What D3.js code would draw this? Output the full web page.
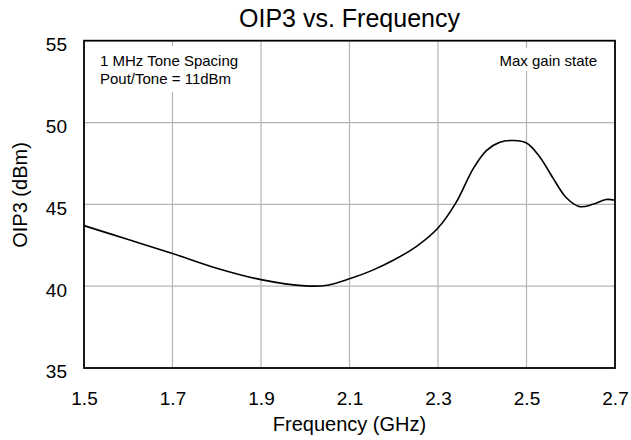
<!DOCTYPE html>
<html>
<head>
<meta charset="utf-8">
<script src="https://cdn.jsdelivr.net/npm/d3@7"></script>
<style>
  html, body { margin: 0; padding: 0; background: #fff; }
  text { font-family: Arial, "Liberation Sans", sans-serif; fill: #000; }
</style>
</head>
<body>
<svg id="chart" width="631" height="440"></svg>
<script>
const freq = [1.5, 1.6, 1.7, 1.8, 1.9, 2.0, 2.05, 2.1, 2.15, 2.2, 2.25, 2.3, 2.34, 2.38, 2.41, 2.44, 2.47, 2.5, 2.53, 2.56, 2.59, 2.62, 2.65, 2.68, 2.7];
const oip3 = [43.7, 42.85, 42.0, 41.1, 40.4, 40.02, 40.06, 40.45, 40.95, 41.6, 42.4, 43.55, 45.07, 47.2, 48.3, 48.8, 48.9, 48.75, 47.9, 46.6, 45.4, 44.86, 45.0, 45.3, 45.25];
const xTicks = [1.5, 1.7, 1.9, 2.1, 2.3, 2.5, 2.7];
const yTicks = [35, 40, 45, 50, 55];
const titleText = "OIP3 vs. Frequency";
const xLabel = "Frequency (GHz)";
const yLabel = "OIP3 (dBm)";
const noteLeft = ["1 MHz Tone Spacing", "Pout/Tone = 11dBm"];
const noteRight = "Max gain state";

const svg = d3.select("#chart");
const W = 631, H = 440;
const m = {left: 84, right: 16, top: 40.7, bottom: 72};
const x = d3.scaleLinear().domain([1.5, 2.7]).range([m.left, W - m.right]);
const y = d3.scaleLinear().domain([35, 55]).range([H - m.bottom, m.top]);

// grid
const g = svg.append("g");
g.selectAll("line.vx").data(xTicks.slice(1, -1)).enter().append("line")
  .attr("x1", d => x(d)).attr("x2", d => x(d))
  .attr("y1", y(55)).attr("y2", y(35))
  .attr("stroke", "#b4b4b4").attr("stroke-width", 1.2);
g.selectAll("line.hy").data(yTicks.slice(1, -1)).enter().append("line")
  .attr("x1", x(1.5)).attr("x2", x(2.7))
  .attr("y1", d => y(d)).attr("y2", d => y(d))
  .attr("stroke", "#b4b4b4").attr("stroke-width", 1.2);

// annotation boxes (white backgrounds hiding grid)
svg.append("rect").attr("x", 95).attr("y", 46).attr("width", 155).attr("height", 46).attr("fill", "#fff");
svg.append("rect").attr("x", 492).attr("y", 48).attr("width", 108).attr("height", 23).attr("fill", "#fff");

svg.append("text").attr("x", 100).attr("y", 65.5).attr("font-size", 15).text(noteLeft[0]);
svg.append("text").attr("x", 100).attr("y", 84).attr("font-size", 15).text(noteLeft[1]);
svg.append("text").attr("x", 597).attr("y", 65.5).attr("font-size", 15).attr("text-anchor", "end").text(noteRight);

// curve
const data = freq.map((f, i) => [f, oip3[i]]);
svg.append("path").datum(data)
  .attr("fill", "none").attr("stroke", "#000").attr("stroke-width", 1.6)
  .attr("d", d3.line().x(d => x(d[0])).y(d => y(d[1])).curve(d3.curveCatmullRom.alpha(0.5)));

// frame
svg.append("rect").attr("x", x(1.5)).attr("y", y(55))
  .attr("width", x(2.7) - x(1.5)).attr("height", y(35) - y(55))
  .attr("fill", "none").attr("stroke", "#000").attr("stroke-width", 1.8);

// axes (labels only)
const xa = svg.append("g").attr("transform", `translate(0,${y(35)})`)
  .call(d3.axisBottom(x).tickValues(xTicks).tickSize(0).tickPadding(0).tickFormat(d3.format(".1f")));
xa.select(".domain").remove();
xa.selectAll("text").attr("font-size", 19).attr("dy", null).attr("y", 37)
  .style("font-family", "Arial, 'Liberation Sans', sans-serif");

const ya = svg.append("g").attr("transform", `translate(${x(1.5)},0)`)
  .call(d3.axisLeft(y).tickValues(yTicks).tickSize(0).tickPadding(0).tickFormat(d3.format("d")));
ya.select(".domain").remove();
ya.selectAll("text").attr("font-size", 19).attr("x", -17).attr("dy", "0.52em")
  .style("font-family", "Arial, 'Liberation Sans', sans-serif");

// titles
svg.append("text").attr("x", (x(1.5) + x(2.7)) / 2).attr("y", 27)
  .attr("text-anchor", "middle").attr("font-size", 25).text(titleText);
svg.append("text").attr("x", (x(1.5) + x(2.7)) / 2).attr("y", 431)
  .attr("text-anchor", "middle").attr("font-size", 20).text(xLabel);
svg.append("text").attr("transform", "translate(27,195) rotate(-90)")
  .attr("text-anchor", "middle").attr("font-size", 20).text(yLabel);
</script>
</body>
</html>
